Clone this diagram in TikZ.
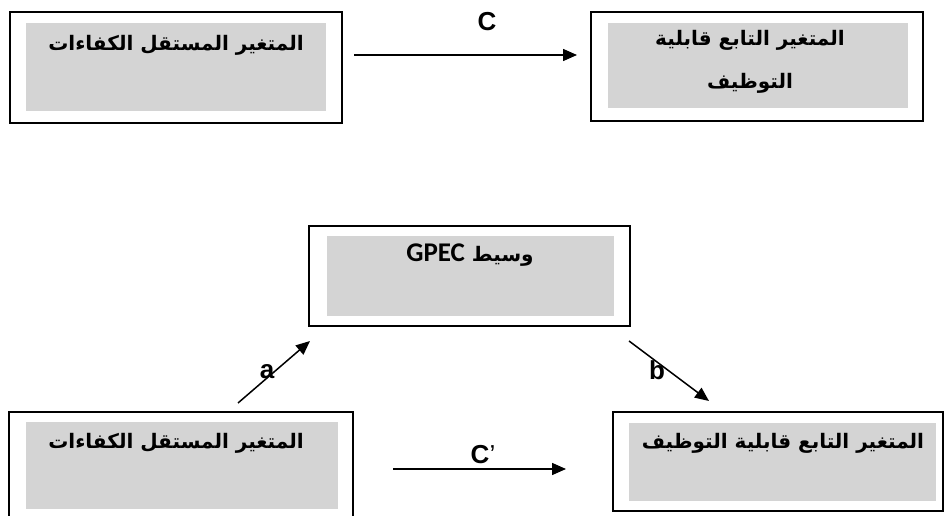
\documentclass[tikz,border=0pt]{standalone}
\usepackage{fontspec}
\setmainfont{Liberation Sans}
\newfontfamily\arabicfont[Script=Arabic]{DejaVu Sans}
\newfontfamily\gpecfont{Carlito}
\TeXXeTstate=1
\usetikzlibrary{arrows.meta}
\definecolor{boxgray}{RGB}{212, 212, 212}

\begin{document}
\begin{tikzpicture}[x = 1pt, y = -1pt,
	outerbox/.style 2 args = {draw, line width = 1.8pt, inner sep = 0pt, minimum width = #1, minimum height = #2},
	graybox/.style 2 args = {fill = boxgray, inner sep = 0pt, minimum width = #1, minimum height = #2},
	artext/.style = {font = \arabicfont\bfseries\fontsize{20}{43}\selectfont, inner sep = 0pt},
	letter/.style = {font = \bfseries\fontsize{26}{30}\selectfont, inner sep = 0pt},
	link/.style = {line width = 1.5pt, -{Triangle[length = 14pt, width = 12pt]}}]
			\useasboundingbox (0,0) rectangle (946,516);
			% direct effect
			\node (ind1) at (176,67.5) [outerbox = {332pt}{111pt}] {};
			\node (ind1g) at (176,67) [graybox = {300pt}{88pt}] {};
			\node (ind1t) at (176,45) [artext] {\beginR المتغير المستقل الكفاءات\endR};
			\node (dep1) at (757,66.5) [outerbox = {332pt}{109pt}] {};
			\node (dep1g) at (758,65.5) [graybox = {300pt}{85pt}] {};
			\node (dep1t) at (750,61.5) [artext, align = center] {\beginR المتغير التابع قابلية\endR\\\beginR التوظيف\endR};
			\coordinate (c1s) at (354,55);
			\coordinate (c1e) at (577,55);
			\draw[link] (c1s) -- (c1e);
			\node (c1) at (487,22) [letter] {C};
			% mediation
			\node (med) at (469.5,276) [outerbox = {321pt}{100pt}] {};
			\node (medg) at (470.5,276) [graybox = {287pt}{80pt}] {};
			\node (medt) at (470,255) [artext] {\beginR وسيط \beginL{\gpecfont\bfseries\fontsize{27}{30}\selectfont GPEC}\endL\endR};
			\node (ind2) at (181,468.5) [outerbox = {344pt}{113pt}] {};
			\node (ind2g) at (182,465.5) [graybox = {312pt}{87pt}] {};
			\node (ind2t) at (176,443) [artext] {\beginR المتغير المستقل الكفاءات\endR};
			\node (dep2) at (778,461.5) [outerbox = {330pt}{99pt}] {};
			\node (dep2g) at (782.5,462) [graybox = {307pt}{78pt}] {};
			\node (dep2t) at (783,443) [artext] {\beginR المتغير التابع قابلية التوظيف\endR};
			\coordinate (as) at (238,403);
			\coordinate (ae) at (310,341);
			\coordinate (bs) at (629,341);
			\coordinate (be) at (709,401);
			\coordinate (c2s) at (393,469);
			\coordinate (c2e) at (566,469);
			\draw[link] (as) -- (ae);
			\draw[link] (bs) -- (be);
			\draw[link] (c2s) -- (c2e);
			\node (la) at (267,372) [letter] {a};
			\node (lb) at (657,370) [letter] {b};
			\node (lc2) at (483,455) [letter] {C{\mdseries’}};
\end{tikzpicture}
\end{document}
